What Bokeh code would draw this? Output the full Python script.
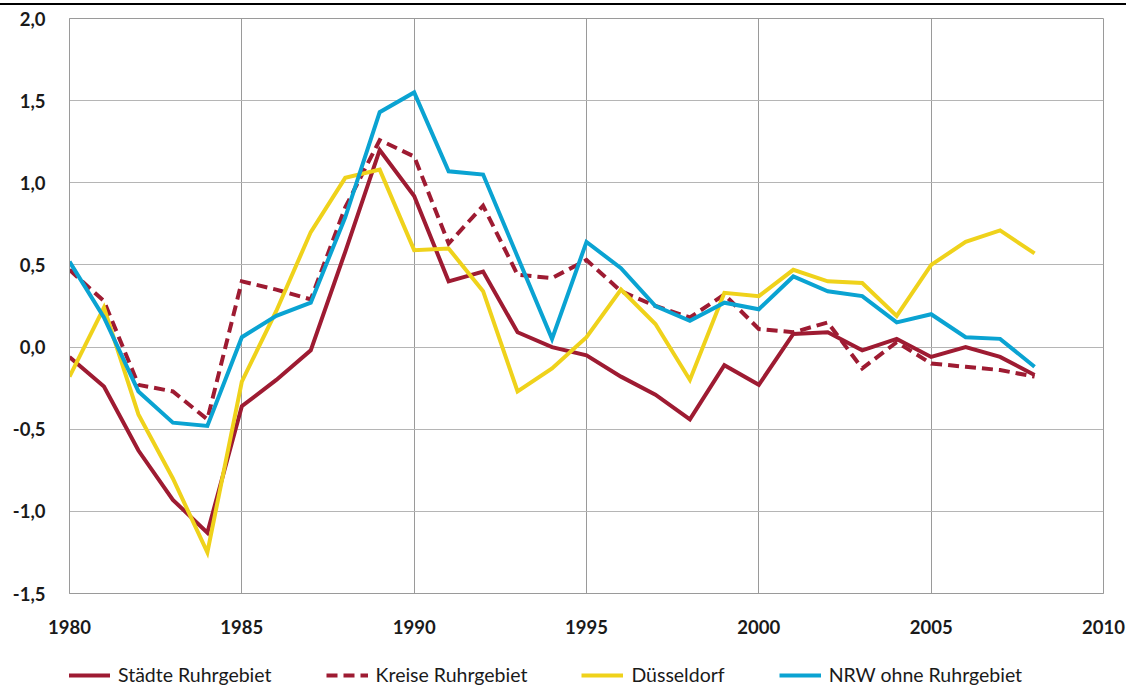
from bokeh.plotting import figure
from bokeh.models import Range1d, FixedTicker, CustomJSTickFormatter, Legend, LegendItem, Div
from bokeh.layouts import column
from bokeh.embed import file_html
from bokeh.resources import INLINE

years = list(range(1980, 2009))
staedte = [-0.06, -0.24, -0.63, -0.93, -1.13, -0.36, -0.20, -0.02, 0.58, 1.20,
           0.92, 0.40, 0.46, 0.09, 0.00, -0.05, -0.18, -0.29, -0.44, -0.11,
           -0.23, 0.08, 0.09, -0.02, 0.05, -0.06, 0.00, -0.06, -0.17]
kreise = [0.47, 0.28, -0.23, -0.27, -0.44, 0.40, 0.35, 0.29, 0.85, 1.26,
          1.16, 0.63, 0.86, 0.44, 0.42, 0.53, 0.34, 0.25, 0.18, 0.32,
          0.11, 0.09, 0.15, -0.13, 0.03, -0.10, -0.12, -0.14, -0.18]
duesseldorf = [-0.18, 0.24, -0.41, -0.80, -1.25, -0.21, 0.22, 0.70, 1.03, 1.08,
               0.59, 0.60, 0.34, -0.27, -0.13, 0.06, 0.35, 0.14, -0.20, 0.33,
               0.31, 0.47, 0.40, 0.39, 0.19, 0.50, 0.64, 0.71, 0.57]
nrw = [0.52, 0.18, -0.27, -0.46, -0.48, 0.06, 0.19, 0.27, 0.79, 1.43,
       1.55, 1.07, 1.05, 0.55, 0.05, 0.64, 0.48, 0.25, 0.16, 0.27,
       0.23, 0.43, 0.34, 0.31, 0.15, 0.20, 0.06, 0.05, -0.12]

series_names = ["Städte Ruhrgebiet", "Kreise Ruhrgebiet", "Düsseldorf", "NRW ohne Ruhrgebiet"]
x_ticks = [1980, 1985, 1990, 1995, 2000, 2005, 2010]
y_ticks = [-1.5, -1.0, -0.5, 0.0, 0.5, 1.0, 1.5, 2.0]

FONT = "Lato"
RED = "#9e1b32"
YELLOW = "#efd21b"
BLUE = "#0aa3d2"
GRID_V = "#9a9a9a"
GRID_H = "#b5b5b5"
W = 1126

styles = [dict(line_color=RED, line_width=4, line_join="miter"),
          dict(line_color=RED, line_width=4, line_dash="11 6", line_join="miter"),
          dict(line_color=YELLOW, line_width=4, line_join="miter"),
          dict(line_color=BLUE, line_width=4, line_join="miter")]

# ---- main chart ----
p = figure(width=W, height=643,
           x_range=Range1d(1980, 2010), y_range=Range1d(-1.5, 2.0),
           output_backend="svg", toolbar_location=None,
           min_border_left=69, min_border_right=W - 1103,
           min_border_top=13, min_border_bottom=55)

p.outline_line_color = GRID_V
p.outline_line_width = 1
p.background_fill_color = "white"
p.border_fill_color = "white"

p.xgrid.ticker = FixedTicker(ticks=x_ticks)
p.ygrid.ticker = FixedTicker(ticks=y_ticks)
p.xgrid.grid_line_color = GRID_V
p.ygrid.grid_line_color = GRID_H
p.xgrid.grid_line_width = 1
p.ygrid.grid_line_width = 1

for ax in (p.xaxis[0], p.yaxis[0]):
    ax.axis_line_color = GRID_V
    ax.major_tick_line_color = None
    ax.minor_tick_line_color = None
    ax.major_tick_out = 0
    ax.major_tick_in = 0
    ax.major_label_text_font = FONT
    ax.major_label_text_font_size = "18.5px"
    ax.major_label_text_font_style = "bold"
    ax.major_label_text_color = "#1a1a1a"

p.xaxis.ticker = FixedTicker(ticks=x_ticks)
p.yaxis.ticker = FixedTicker(ticks=y_ticks)
p.xaxis.major_label_standoff = 26
p.yaxis.major_label_standoff = 24
p.yaxis.formatter = CustomJSTickFormatter(code="return tick.toFixed(1).replace('.', ',');")

for vals, st in zip([staedte, kreise, duesseldorf, nrw], styles):
    p.line(years, vals, **st)

# ---- legend strip (keys drawn by the legend; the dummy lines lie off-range) ----
lg = figure(width=W, height=40, x_range=Range1d(0, 1), y_range=Range1d(0, 1),
            x_axis_type=None, y_axis_type=None,
            output_backend="svg", toolbar_location=None,
            min_border_left=0, min_border_right=0, min_border_top=0, min_border_bottom=0)
lg.outline_line_color = None
lg.background_fill_color = "white"
lg.border_fill_color = "white"
items = []
for name, st in zip(series_names, styles):
    rr = lg.line(x=[-10, -9], y=[-10, -10], **st)
    items.append(LegendItem(label=name, renderers=[rr]))

legend = Legend(items=items, orientation="horizontal", location=(-1, 2),
                margin=0, padding=0, spacing=54,
                glyph_width=42, glyph_height=20, label_standoff=8,
                label_text_font=FONT, label_text_font_size="19.5px",
                label_text_color="#1a1a1a",
                border_line_color=None, background_fill_alpha=0)
lg.add_layout(legend, "center")

topline = Div(text="", width=W, height=2, margin=(3, 0, 0, 0),
              styles={"background-color": "#000000"})

layout = column(topline, p, lg, spacing=0)

open("out.html", "w").write(file_html(layout, INLINE))
